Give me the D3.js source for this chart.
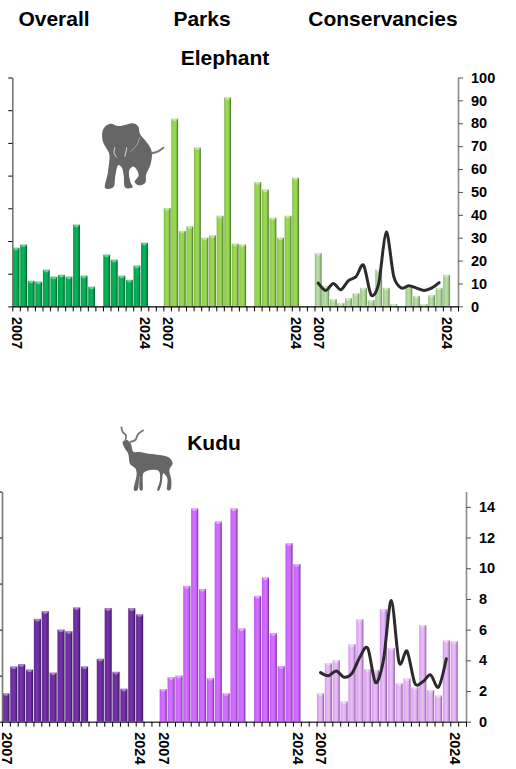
<!DOCTYPE html>
<html lang="en">
<head>
<meta charset="UTF-8" />
<title>Elephant and Kudu</title>
<script src="https://d3js.org/d3.v7.min.js"></script>
<style>
  html, body { margin: 0; background: #fff; overflow: hidden; }
  svg { display: block; font-family: "Liberation Sans", Arial, sans-serif; font-weight: bold; }
  text { fill: #000; }
</style>
</head>
<body>
<div id="chart"></div>
<script>
// one axis holds three groups of 18 years, with 2 blank slots between them
const years = d3.range(2007, 2025);
const slots = 59;
const yearLabels = ["2007", "2024"];

const elephantOverall = [25.6, 27, 11.2, 10.8, 16, 13, 13.8, 13, 35.7, 13.4, 8.6, null, 22.6, 20.4, 13.4, 11.6, 17.8, 27.8];
const elephantParks = [43, 82, 33, 35, 69.4, 30, 31, 39.6, 91.3, 27.4, 27, null, 54.3, 51, 38.7, 30, 39.6, 56.2];
const elephantCons = [23.3, 9, 3.2, 1.5, 3.6, 5.8, 8.1, 2.8, 16, 8.1, 1, null, 9, 4.6, 1, 5, 8.1, 13.8];
const elephantLine = [10.2, 7, 10, 7.3, 11.3, 13, 18, 5, 10, 32.5, 13, 8, 9, 8, 7, 8, 10.4];

const kuduOverall = [1.85, 3.6, 3.75, 3.4, 6.7, 7.2, 3.2, 6, 5.9, 7.45, 3.6, null, 4.1, 7.4, 3.25, 2.15, 7.4, 7];
const kuduParks = [2.13, 2.9, 3, 8.85, 13.9, 8.65, 2.85, 13.05, 1.85, 13.9, 6.08, null, 8.2, 9.4, 5.77, 3.62, 11.63, 10.27];
const kuduCons = [1.85, 3.82, 4, 1.32, 5.05, 6.68, 3.43, 3.36, 7.33, 4.8, 2.5, 2.82, 2.24, 6.3, 2.06, 1.71, 5.3, 5.23];
const kuduLine = [3.2, 3, 3.3, 2.9, 3.15, 4.2, 4.8, 2.55, 4, 7.9, 3.85, 4.6, 2.5, 2.6, 3.05, 2.25, 4.1];

const elephantTicks = d3.range(0, 101, 10);
const kuduTicks = d3.range(0, 15, 2);

const groupStart = [0, 20, 40];

const svg = d3.select("#chart").append("svg").attr("width", 516).attr("height", 769);
const defs = svg.append("defs");

function barGradient(id, edge, mid, light, dark) {
  const g = defs.append("linearGradient").attr("id", id);
  [[0, edge], [0.15, mid], [0.45, light], [0.72, mid], [1, dark]].forEach(s => {
    g.append("stop").attr("offset", s[0]).attr("stop-color", s[1]);
  });
}
barGradient("g1", "#0a8a45", "#00a850", "#06b658", "#03512a");
barGradient("g2", "#7fb048", "#8fcf4c", "#9bda55", "#42662a");
barGradient("g3", "#8eb57c", "#a5d092", "#bbdfa9", "#5f8552");
barGradient("g4", "#5c2a8c", "#6a2c9c", "#7633ab", "#301550");
barGradient("g5", "#b455e0", "#cc62ff", "#d470ff", "#6e3090");
barGradient("g6", "#c79bdc", "#dfa6f5", "#ecc0fa", "#7e5f8a");

function panel(o) {
  const g = svg.append("g");
  const x = d3.scaleBand().domain(d3.range(slots)).range([o.x0, o.x1]).paddingInner(0.1).paddingOuter(0.05);
  const xTicks = d3.scaleLinear().domain([0, slots]).range([o.x0, o.x1]);
  const y = d3.scaleLinear().domain([0, o.max]).range([o.y0, o.y1]);

  o.groups.forEach((vals, gi) => {
    const slot = i => groupStart[gi] + i;
    const bars = vals.map((v, i) => ({ v, i })).filter(d => d.v !== null);
    g.append("g").selectAll("rect").data(bars).join("rect")
      .attr("x", d => x(slot(d.i)))
      .attr("y", d => y(d.v))
      .attr("width", x.bandwidth())
      .attr("height", d => y(0) - y(d.v))
      .attr("fill", `url(#${o.fills[gi]})`);
    // small bright cap on the top of each bar
    g.append("g").selectAll("path").data(bars).join("path")
      .attr("d", d => {
        const l = x(slot(d.i)), w = x.bandwidth(), t = y(d.v);
        return `M${l},${t}h${w}l${-w * 0.3},2.5h${-w * 0.4}z`;
      })
      .attr("fill", "#fff").attr("opacity", 0.4);
  });

  // smoothed line over the third group
  const line = d3.line()
    .x((d, i) => x(groupStart[2] + i) + x.bandwidth() / 2)
    .y(d => y(d))
    .curve(d3.curveCardinal.tension(0.1));
  g.append("path").attr("d", line(o.line))
    .attr("fill", "none").attr("stroke", "#2b2b2b").attr("stroke-width", 3)
    .attr("stroke-linecap", "round");

  // left axis: its labels sit off the page
  const yLeft = d3.scaleLinear().domain([0, o.leftSteps]).range([o.y0, o.y1]);
  const la = g.append("g").attr("transform", `translate(${o.x0},0)`)
    .call(d3.axisLeft(yLeft).tickValues(d3.range(o.leftSteps + 1)).tickSize(4).tickSizeOuter(0).tickFormat(""));
  la.select(".domain").attr("stroke", "#777").attr("stroke-width", 1.6);

  // right axis
  const ra = g.append("g").attr("transform", `translate(${o.x1},0)`)
    .call(d3.axisRight(y).tickValues(o.ticks).tickSize(5).tickSizeOuter(0).tickPadding(o.pad))
    .attr("font-family", null).attr("font-size", 14.5);
  ra.select(".domain").attr("stroke", "#8c8c8c").attr("stroke-width", 1.6);
  ra.selectAll(".tick line").attr("stroke", "#555");

  // bottom axis, ticks on the slot boundaries
  const ba = g.append("g").attr("transform", `translate(0,${o.y0})`)
    .call(d3.axisBottom(xTicks).tickValues(d3.range(slots + 1)).tickSize(5).tickSizeOuter(0).tickFormat(""));
  ba.select(".domain").attr("stroke", o.baseColor).attr("stroke-width", 1.4);

  // year labels, first and last of each group
  groupStart.forEach(s => {
    [0, years.length - 1].forEach((i, k) => {
      g.append("text")
        .attr("transform", `translate(${x(s + i) + x.bandwidth() / 2},${o.y0 + 10.5}) rotate(90)`)
        .attr("dy", "0.3em")
        .attr("font-size", 14.5)
        .text(yearLabels[k]);
    });
  });
}

panel({
  x0: 12.3, x1: 458, y0: 306.4, y1: 77.5, max: 100, leftSteps: 7,
  groups: [elephantOverall, elephantParks, elephantCons], fills: ["g1", "g2", "g3"],
  line: elephantLine, ticks: elephantTicks, pad: 8, baseColor: "#000"
});
panel({
  x0: 2, x1: 466, y0: 721.7, y1: 491.5, max: 15, leftSteps: 5,
  groups: [kuduOverall, kuduParks, kuduCons], fills: ["g4", "g5", "g6"],
  line: kuduLine, ticks: kuduTicks, pad: 8, baseColor: "#444"
});

// titles
const titles = [["Overall", 54, 26], ["Parks", 202, 26], ["Conservancies", 383, 26], ["Elephant", 225, 64.5], ["Kudu", 214, 449.5]];
svg.append("g").selectAll("text").data(titles).join("text")
  .attr("x", d => d[1]).attr("y", d => d[2])
  .attr("text-anchor", "middle").attr("font-size", 21).text(d => d[0]);

// animal silhouettes, traced by hand and rounded off with a closed spline
const outline = d3.line().curve(d3.curveCatmullRomClosed.alpha(0.5));
const open = d3.line().curve(d3.curveCatmullRom.alpha(0.5));

const elephantBody = [[38, 62], [48, 47], [62, 41], [85, 48], [105, 45], [127, 40], [144, 48], [150, 72], [167, 93], [181, 113], [186, 130], [181, 165], [168, 195], [166, 218], [146, 226], [134, 216], [146, 196], [132, 170], [118, 180], [121, 215], [128, 232], [106, 233], [101, 195], [95, 172], [85, 165], [76, 198], [70, 232], [46, 235], [54, 185], [58, 132], [50, 116], [38, 92]];
const elephant = svg.append("g").attr("transform", "translate(90,110) scale(0.3333)");
elephant.append("path").attr("d", outline(elephantBody)).attr("fill", "#666");
elephant.append("path").attr("d", open([[184, 130], [203, 125], [222, 112]])).attr("fill", "none").attr("stroke", "#777").attr("stroke-width", 6);
elephant.append("path").attr("d", open([[150, 80], [142, 102], [122, 125]])).attr("fill", "none").attr("stroke", "#bbb").attr("stroke-width", 2.5);
elephant.append("path").attr("d", open([[75, 112], [72, 128], [80, 142]])).attr("fill", "none").attr("stroke", "#ddd").attr("stroke-width", 3);
elephant.append("path").attr("d", open([[110, 112], [108, 126], [104, 140]])).attr("fill", "none").attr("stroke", "#ddd").attr("stroke-width", 3);

const kuduBody = [[38, 66], [50, 60], [62, 70], [70, 95], [88, 96], [115, 101], [150, 105], [178, 113], [188, 130], [178, 150], [184, 180], [181, 210], [172, 210], [172, 175], [160, 160], [155, 190], [146, 213], [142, 211], [150, 180], [146, 153], [112, 152], [100, 160], [97, 211], [90, 211], [88, 168], [82, 211], [72, 211], [80, 162], [76, 145], [60, 132], [55, 102], [44, 84]];
const kudu = svg.append("g").attr("transform", "translate(110,420) scale(0.3333)");
kudu.append("path").attr("d", outline(kuduBody)).attr("fill", "#666");
kudu.append("path").attr("d", open([[46, 62], [48, 46], [38, 36], [34, 20]])).attr("fill", "none").attr("stroke", "#777").attr("stroke-width", 5.5);
kudu.append("path").attr("d", open([[60, 66], [76, 60], [84, 43], [101, 30]])).attr("fill", "none").attr("stroke", "#777").attr("stroke-width", 5.5);
</script>
</body>
</html>
